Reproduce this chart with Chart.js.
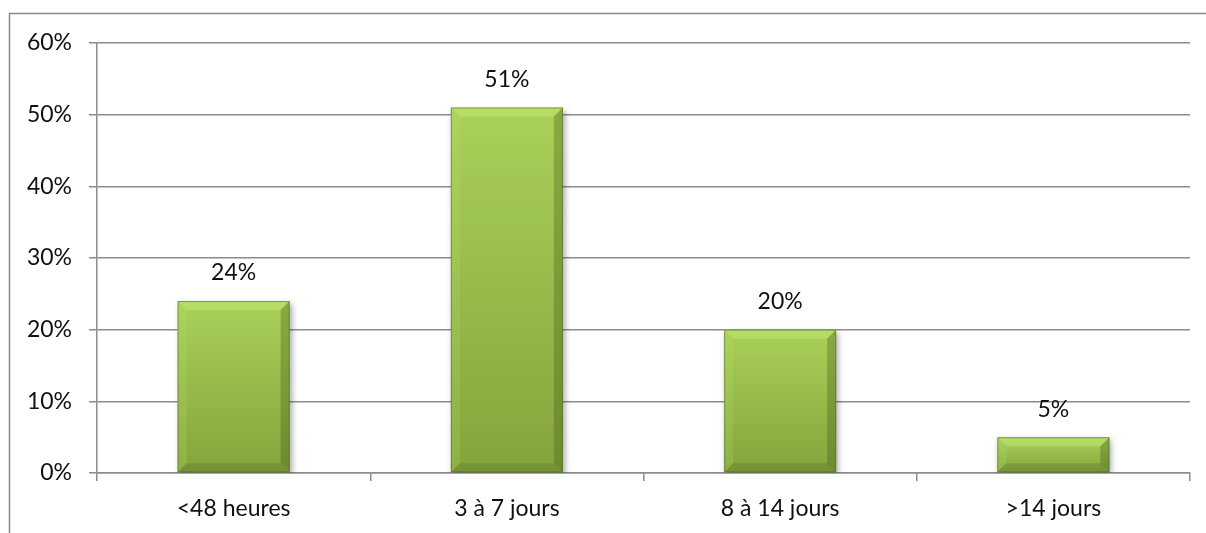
<!DOCTYPE html>
<html>
<head>
  <meta charset="utf-8">
  <title>Délai</title>
  <script src="https://cdn.jsdelivr.net/npm/chart.js@4.4.1/dist/chart.umd.min.js"></script>
  <style>
    html, body { margin: 0; padding: 0; background: #fff; }
    canvas { display: block; }
  </style>
</head>
<body>
  <canvas id="chart" width="1206" height="533"></canvas>

  <script>
    const categories = ['<48 heures', '3 à 7 jours', '8 à 14 jours', '>14 jours'];
    const values = [24, 51, 20, 5];
    const yTicks = [0, 10, 20, 30, 40, 50, 60];

    const FONT = 'Lato, "Open Sans", sans-serif';
    const FONT_SIZE = 23;
    const GRID = '#8c8c8c';

    // frame around the chart (left + top edges visible)
    const frame = {
      id: 'frame',
      beforeDraw(chart) {
        const c = chart.ctx;
        c.save();
        c.strokeStyle = '#8a8a8a';
        c.lineWidth = 1.5;
        c.beginPath();
        c.moveTo(9.5, chart.height + 2);
        c.lineTo(9.5, 13.5);
        c.lineTo(chart.width + 2, 13.5);
        c.stroke();
        c.restore();
      }
    };

    // soft shadow under bars
    const shadow = {
      id: 'shadow',
      beforeDatasetsDraw(chart) {
        const c = chart.ctx;
        c.save();
        c.shadowColor = 'rgba(0,0,0,0.35)';
        c.shadowBlur = 6;
        c.shadowOffsetX = 2;
        c.shadowOffsetY = 3;
      },
      afterDatasetsDraw(chart) {
        chart.ctx.restore();
      }
    };

    // bevel edges + value labels
    const bevel = {
      id: 'bevel',
      afterDatasetsDraw(chart) {
        const c = chart.ctx;
        const meta = chart.getDatasetMeta(0);
        meta.data.forEach((el, i) => {
          const l = el.x - el.width / 2, r = el.x + el.width / 2;
          const t = el.y, b = el.base;
          const s = Math.min(9, (b - t) / 2);
          c.save();
          // top
          c.fillStyle = 'rgba(200,235,120,0.45)';
          c.beginPath();
          c.moveTo(l, t); c.lineTo(r, t); c.lineTo(r - s, t + s); c.lineTo(l + s, t + s); c.closePath(); c.fill();
          // left
          c.fillStyle = 'rgba(190,225,110,0.2)';
          c.beginPath();
          c.moveTo(l, t); c.lineTo(l + s, t + s); c.lineTo(l + s, b - s); c.lineTo(l, b); c.closePath(); c.fill();
          // right
          c.fillStyle = 'rgba(60,80,20,0.3)';
          c.beginPath();
          c.moveTo(r, t); c.lineTo(r, b); c.lineTo(r - s, b - s); c.lineTo(r - s, t + s); c.closePath(); c.fill();
          // bottom
          c.fillStyle = 'rgba(60,80,20,0.2)';
          c.beginPath();
          c.moveTo(l, b); c.lineTo(r, b); c.lineTo(r - s, b - s); c.lineTo(l + s, b - s); c.closePath(); c.fill();
          // outline
          c.strokeStyle = 'rgba(80,105,35,0.55)';
          c.lineWidth = 1;
          c.strokeRect(l + 0.5, t + 0.5, el.width - 1, b - t - 1);
          // label
          c.fillStyle = '#111';
          c.font = FONT_SIZE + 'px ' + FONT;
          c.textAlign = 'center';
          c.textBaseline = 'middle';
          c.fillText(values[i] + '%', el.x, t - 28);
          c.restore();
        });
      }
    };

    const ctx = document.getElementById('chart').getContext('2d');
    new Chart(ctx, {
      type: 'bar',
      data: {
        labels: categories,
        datasets: [{
          data: values,
          backgroundColor(context) {
            const chart = context.chart;
            const y = chart.scales.y;
            const fallback = '#98bf4b';
            if (!y || context.dataIndex === undefined) return fallback;
            const top = y.getPixelForValue(values[context.dataIndex]);
            const base = y.getPixelForValue(0);
            if (!isFinite(top) || !isFinite(base) || top === base) return fallback;
            const g = chart.ctx.createLinearGradient(0, top, 0, base);
            g.addColorStop(0, '#a9d158');
            g.addColorStop(1, '#83a43c');
            return g;
          },
          borderWidth: 0,
          barPercentage: 0.41,
          categoryPercentage: 1
        }]
      },
      options: {
        responsive: false,
        animation: false,
        devicePixelRatio: 1,
        layout: { padding: { left: 0, top: 43, right: 16, bottom: 0 } },
        plugins: {
          legend: { display: false },
          tooltip: { enabled: false }
        },
        scales: {
          x: {
            afterFit(scale) { scale.height = 60; },
            grid: {
              offset: true,
              drawOnChartArea: false,
              drawTicks: true,
              tickLength: 8,
              color: GRID,
              lineWidth: 1.5
            },
            border: { color: GRID, width: 1.5 },
            ticks: {
              color: '#111',
              padding: 14,
              font: { family: FONT, size: FONT_SIZE }
            }
          },
          y: {
            min: 0,
            max: 60,
            afterFit(scale) { scale.width = 97; },
            afterBuildTicks(scale) { scale.ticks = yTicks.map(v => ({ value: v })); },
            grid: {
              color: GRID,
              lineWidth: 1.5,
              tickLength: 8
            },
            border: { color: GRID, width: 1.5 },
            ticks: {
              color: '#111',
              padding: 17,
              font: { family: FONT, size: FONT_SIZE },
              callback: v => v + '%'
            }
          }
        }
      },
      plugins: [frame, shadow, bevel]
    });
  </script>
</body>
</html>
